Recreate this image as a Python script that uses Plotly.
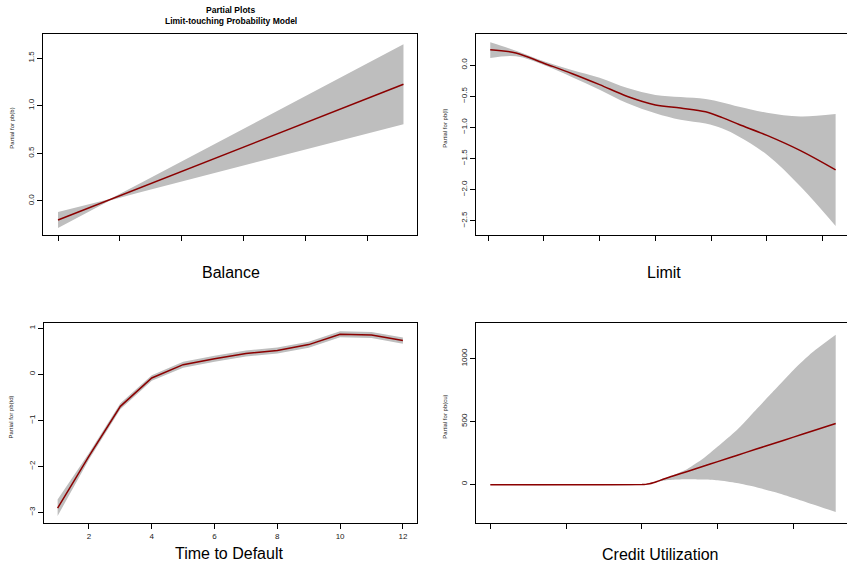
import plotly.graph_objects as go

# ---------------- data ----------------
# Balance panel (x in axis tick units, ticks unlabeled)
bal_x = [0, 0.42, 0.84, 1.3, 2.3, 3.4, 4.5, 5.59]
bal_fit = [-0.20, -0.093, 0.014, 0.131, 0.386, 0.666, 0.946, 1.224]
bal_upper = [-0.116, -0.051, 0.022, 0.175, 0.517, 0.894, 1.271, 1.644]
bal_lower = [-0.284, -0.135, 0.006, 0.087, 0.255, 0.438, 0.621, 0.804]
bal_ticks = [0, 1, 2, 3, 4, 5]

# Limit panel
lim_x = [0.04, 0.5, 1.0, 1.5, 2.0, 2.5, 3.0, 3.45, 3.9, 4.2, 4.5, 5.0, 5.6, 6.23]
lim_fit = [0.247, 0.195, 0.03, -0.135, -0.315, -0.505, -0.64, -0.69, -0.75, -0.845, -0.955, -1.13, -1.375, -1.684]
lim_upper = [0.365, 0.23, 0.06, -0.08, -0.205, -0.37, -0.48, -0.515, -0.545, -0.60, -0.67, -0.765, -0.825, -0.788]
lim_lower = [0.113, 0.14, 0.0, -0.19, -0.395, -0.615, -0.775, -0.88, -0.94, -1.02, -1.15, -1.44, -1.95, -2.584]
lim_ticks = [0, 1, 2, 3, 4, 5, 6]

# Time to Default panel
td_x = [1, 2, 3, 4, 5, 6, 7, 8, 9, 10, 11, 12]
td_fit = [-2.91, -1.78, -0.697, -0.08, 0.21, 0.34, 0.45, 0.52, 0.646, 0.871, 0.856, 0.733]
td_upper = [-2.72, -1.71, -0.63, -0.02, 0.275, 0.405, 0.515, 0.585, 0.71, 0.935, 0.92, 0.80]
td_lower = [-3.08, -1.85, -0.76, -0.14, 0.145, 0.275, 0.385, 0.455, 0.58, 0.805, 0.79, 0.665]
td_ticks = [2, 4, 6, 8, 10, 12]

# Credit Utilization panel
cu_x = [0, 1.0, 2.0, 2.05, 2.1, 2.15, 2.2, 2.3, 2.4, 2.6, 2.8, 3.0, 3.25, 3.5, 3.75, 4.0, 4.25, 4.557]
cu_fit = [-4, -4, -3, -1, 4, 12, 22, 44, 63, 102, 141, 180, 229, 278, 326, 375, 424, 484]
cu_upper = [-1, -1, -1, 1, 6, 15, 26, 47, 70, 122, 200, 300, 430, 590, 750, 910, 1050, 1190]
cu_lower = [-7, -7, -6, -3, 2, 10, 18, 30, 36, 40, 38, 32, 10, -22, -62, -110, -160, -221]
cu_ticks = [0, 1, 2, 3, 4]

W, H = 847, 562
BAND = "#BEBEBE"
LINE = "#8B0000"
FONT = "Liberation Sans, Arial, Helvetica, sans-serif"

fig = go.Figure()

panels = [
    ("x", "y", bal_x, bal_fit, bal_upper, bal_lower, "linear", 1.0),
    ("x2", "y2", lim_x, lim_fit, lim_upper, lim_lower, "spline", 1.0),
    ("x3", "y3", td_x, td_fit, td_upper, td_lower, "linear", 1.0),
    ("x4", "y4", cu_x, cu_fit, cu_upper, cu_lower, "spline", 0.6),
]
for xa, ya, xs, fit, up, lo, shape, sm in panels:
    fig.add_trace(go.Scatter(x=xs, y=lo, xaxis=xa, yaxis=ya, mode="lines",
                             line=dict(width=0, shape=shape, smoothing=sm, color=BAND),
                             showlegend=False, hoverinfo="skip"))
    fig.add_trace(go.Scatter(x=xs, y=up, xaxis=xa, yaxis=ya, mode="lines",
                             line=dict(width=0, shape=shape, smoothing=sm, color=BAND),
                             fill="tonexty", fillcolor=BAND,
                             showlegend=False, hoverinfo="skip"))
    fig.add_trace(go.Scatter(x=xs, y=fit, xaxis=xa, yaxis=ya, mode="lines",
                             line=dict(width=1.5, shape=shape, smoothing=sm, color=LINE),
                             showlegend=False))


def px2x(p):
    return p / W


def py2y(p):
    return 1 - p / H


common = dict(showgrid=False, zeroline=False, showline=True, linecolor="black",
              linewidth=1, ticks="outside", ticklen=5, tickcolor="black",
              tickwidth=1, tickfont=dict(family=FONT, size=8, color="#222"))

# domains (pixel positions of the boxes)
top_dom = [py2y(235), py2y(34)]
bot_dom = [py2y(523.3), py2y(323.3)]

fig.update_layout(
    xaxis=dict(domain=[px2x(43), px2x(417)], range=[-0.243, 5.809],
               tickvals=bal_ticks, showticklabels=False, mirror=True, anchor="y", **common),
    yaxis=dict(domain=top_dom, range=[-0.357, 1.752], tickvals=[0, 0.5, 1.0, 1.5],
               tickformat=".1f", tickangle=-90, mirror=True, anchor="x", **common),
    xaxis2=dict(domain=[px2x(476.3), 1.0], range=[-0.21, 6.434],
                tickvals=lim_ticks, showticklabels=False, mirror=True, anchor="y2", **common),
    yaxis2=dict(domain=top_dom, range=[-2.73, 0.499],
                tickvals=[0, -0.5, -1.0, -1.5, -2.0, -2.5], tickformat=".1f",
                tickangle=-90, mirror=False, anchor="x2", **common),
    xaxis3=dict(domain=[px2x(43.7), px2x(416.7)], range=[0.557, 12.44],
                tickvals=td_ticks, showticklabels=True, mirror=True, anchor="y3", **common),
    yaxis3=dict(domain=bot_dom, range=[-3.24, 1.109], tickvals=[1, 0, -1, -2, -3],
                tickangle=-90, mirror=True, anchor="x3", **common),
    xaxis4=dict(domain=[px2x(476.3), 1.0], range=[-0.185, 4.706],
                tickvals=cu_ticks, showticklabels=False, mirror=True, anchor="y4", **common),
    yaxis4=dict(domain=bot_dom, range=[-311, 1281.5], tickvals=[0, 500, 1000],
                tickangle=-90, mirror=False, anchor="x4", **common),
    width=W, height=H, margin=dict(l=0, r=0, t=0, b=0),
    paper_bgcolor="white", plot_bgcolor="white",
    font=dict(family=FONT, color="black"),
)

ann = []
# main title
ann.append(dict(text="<b>Partial Plots</b>", x=px2x(231), y=py2y(10.5), xref="paper", yref="paper",
                showarrow=False, font=dict(size=8.5, family=FONT), xanchor="center", yanchor="middle"))
ann.append(dict(text="<b>Limit-touching Probability Model</b>", x=px2x(231), y=py2y(21.5),
                xref="paper", yref="paper", showarrow=False, font=dict(size=8.5, family=FONT),
                xanchor="center", yanchor="middle"))
# x-axis titles
for txt, cx, cy in [("Balance", 231, 272), ("Limit", 664, 272),
                    ("Time to Default", 229, 553.5), ("Credit Utilization", 660, 554.5)]:
    ann.append(dict(text=txt, x=px2x(cx), y=py2y(cy), xref="paper", yref="paper", showarrow=False,
                    font=dict(size=16, family=FONT), xanchor="center", yanchor="middle"))
# y-axis titles
for txt, cx, cy in [("Partial for pb(b)", 11.7, 128), ("Partial for pb(l)", 444.8, 128),
                    ("Partial for pb(td)", 10.5, 417), ("Partial for pb(cu)", 444.8, 417)]:
    ann.append(dict(text=txt, x=px2x(cx), y=py2y(cy), xref="paper", yref="paper", showarrow=False,
                    textangle=-90, font=dict(size=6, family=FONT, color="#222"),
                    xanchor="center", yanchor="middle"))
fig.update_layout(annotations=ann)

fig.write_html("out.html")
